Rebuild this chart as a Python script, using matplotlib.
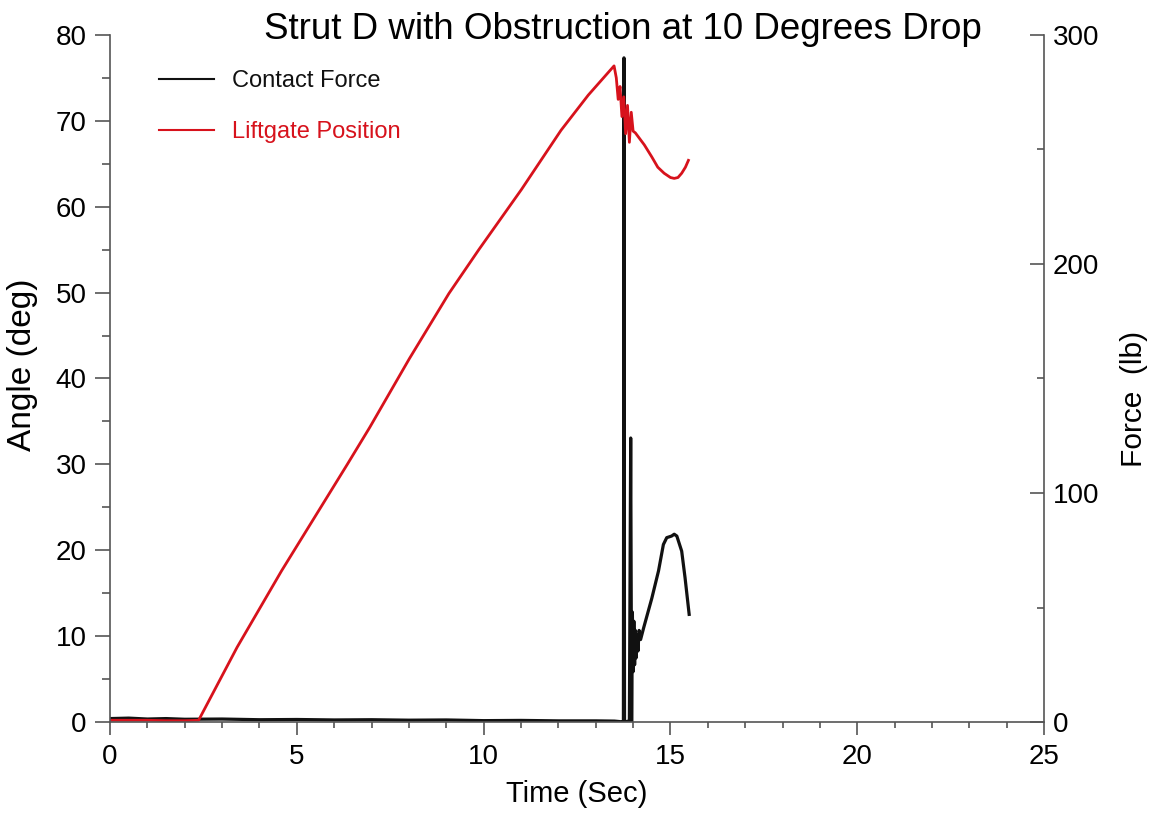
import matplotlib

matplotlib.use('Agg')
import matplotlib.pyplot as plt
from matplotlib.ticker import MultipleLocator

plt.rcParams['font.family'] = ['Liberation Sans', 'DejaVu Sans']

# Liftgate position (deg) vs time (s)
time_pos = [0.0, 0.5, 1.0, 1.5, 2.0, 2.37, 3.4, 4.59, 5.47, 6.35, 6.95, 8.01, 9.07,
            9.87, 11.01, 12.07, 12.8, 13.49, 13.55, 13.6, 13.65, 13.7, 13.75, 13.8,
            13.85, 13.9, 13.95, 14.0, 14.06, 14.3, 14.5, 14.66, 14.83, 15.0, 15.1,
            15.2, 15.3, 15.4, 15.48]
angle = [0.2, 0.2, 0.2, 0.15, 0.15, 0.2, 8.7, 17.6, 23.8, 30.0, 34.3, 42.3, 49.9,
         55.0, 62.0, 68.9, 73.0, 76.4, 75.0, 72.5, 74.0, 70.5, 72.8, 68.5,
         71.8, 67.5, 71.0, 68.8, 68.6, 67.2, 65.8, 64.6, 63.9, 63.4, 63.3,
         63.4, 63.9, 64.6, 65.4]

# Contact force (lb) vs time (s)
time_force = [0.0, 0.5, 1.0, 1.5, 2.0, 3.0, 4.0, 5.0, 6.0, 7.0, 8.0, 9.0, 10.0, 11.0,
              12.0, 13.0, 13.5, 13.7, 13.74, 13.755, 13.77, 13.9, 13.935, 13.96,
              13.98, 14.0, 14.02, 14.04, 14.06, 14.08, 14.1, 14.13, 14.16, 14.2,
              14.28, 14.5, 14.68, 14.81, 14.9, 15.03, 15.1, 15.17, 15.3, 15.39, 15.5]
force = [1.5, 1.7, 1.3, 1.5, 1.2, 1.3, 1.0, 1.1, 0.9, 1.0, 0.8, 0.9, 0.6, 0.7,
         0.5, 0.5, 0.4, 0.1, 0.0, 290.0, 0.0, 0.5, 124.0, 0.0,
         48.0, 22.0, 44.0, 25.0, 40.0, 28.0, 38.0, 31.0, 40.0, 36.0,
         41.0, 54.0, 66.0, 77.5, 80.5, 81.2, 82.0, 81.2, 74.6, 63.0, 47.0]

red = '#d7121c'
spine_col = '#555555'

fig = plt.figure(figsize=(11.56, 8.15), dpi=100)
ax = fig.add_axes([0.0952, 0.1141, 0.808, 0.843])
ax2 = ax.twinx()
ax.set_zorder(ax2.get_zorder() + 1)
ax.patch.set_visible(False)

l1, = ax2.plot(time_force, force, color='#111111', lw=2.3, label='Contact Force')
l2, = ax.plot(time_pos, angle, color=red, lw=2.0, label='Liftgate Position')

ax.set_xlim(0, 25)
ax.set_ylim(0, 80)
ax2.set_ylim(0, 300)

ax.xaxis.set_major_locator(MultipleLocator(5))
ax.xaxis.set_minor_locator(MultipleLocator(1))
ax.yaxis.set_major_locator(MultipleLocator(10))
ax.yaxis.set_minor_locator(MultipleLocator(5))
ax2.yaxis.set_major_locator(MultipleLocator(100))
ax2.yaxis.set_minor_locator(MultipleLocator(50))

for a in (ax, ax2):
    a.spines['top'].set_visible(False)
    for s in ('left', 'right', 'bottom'):
        a.spines[s].set_color(spine_col)
        a.spines[s].set_linewidth(1.2)
ax.spines['right'].set_visible(False)
ax2.spines['left'].set_visible(False)
ax2.spines['bottom'].set_visible(False)

ax.tick_params(axis='y', which='major', direction='out', length=11, width=1.2,
               color=spine_col, labelsize=20, pad=6)
ax.tick_params(axis='y', which='minor', direction='out', length=6, width=1.2, color=spine_col)
ax.tick_params(axis='x', which='major', direction='out', length=9, width=1.2,
               color=spine_col, labelsize=20, pad=7)
ax.tick_params(axis='x', which='minor', direction='out', length=4, width=1.2, color=spine_col)
ax2.tick_params(axis='y', which='major', direction='in', length=10, width=1.2,
                color=spine_col, labelsize=20, pad=6)
ax2.tick_params(axis='y', which='minor', direction='in', length=5, width=1.2, color=spine_col)

ax.set_xlabel('Time (Sec)', fontsize=21)
ax.xaxis.set_label_coords(0.5, -0.084)
ax.set_ylabel('Angle (deg)', fontsize=24)
ax.yaxis.set_label_coords(-0.077, 0.52)
ax2.set_ylabel('Force  (lb)', fontsize=21.5)
ax2.yaxis.set_label_coords(1.081, 0.47)

fig.text(0.539, 0.964, 'Strut D with Obstruction at 10 Degrees Drop', fontsize=26.5,
         ha='center', va='center')

leg = ax.legend(handles=[l1, l2], loc='upper left', bbox_to_anchor=(0.03, 0.98),
                frameon=False, fontsize=17, handlelength=2.3, handletextpad=0.76,
                labelspacing=1.23, labelcolor='linecolor')
for h in leg.legend_handles:
    h.set_linewidth(1.5)

fig.savefig('out.png', dpi=100)
